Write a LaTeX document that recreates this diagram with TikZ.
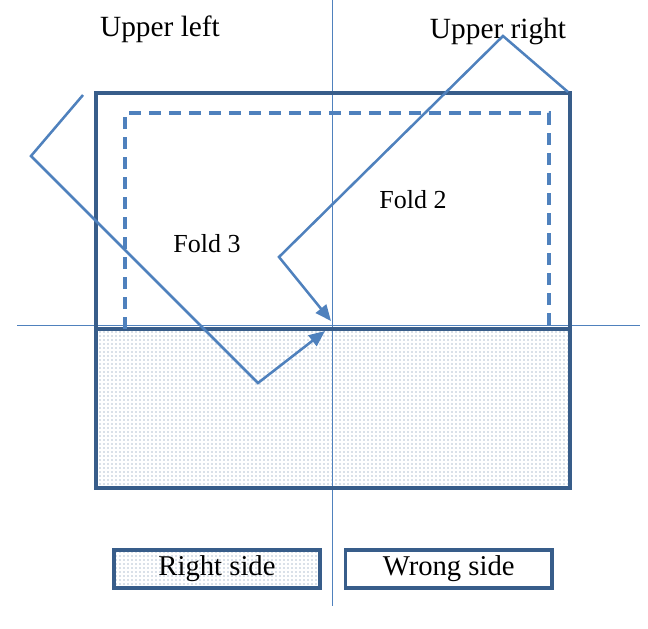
\documentclass[tikz,border=0pt]{standalone}
\usepackage{fontspec}
\setmainfont{Liberation Serif}
\usetikzlibrary{arrows.meta, patterns, positioning}
\definecolor{foldblue}{RGB}{79,129,189}
\definecolor{edgeblue}{RGB}{56,93,138}

\begin{document}
\begin{tikzpicture}[x=0.75pt, y=-0.75pt,
        axis/.style={foldblue, line width=0.6pt},
        edge/.style={edgeblue, line width=2.8pt},
        seam/.style={foldblue, line width=2.6pt, dash pattern=on 9pt off 6pt},
        fold/.style={foldblue, line width=1.9pt, -{Triangle[length=12pt, width=10pt]}},
        lbl/.style={font=\fontsize{19.5}{22}\selectfont},
        big/.style={font=\fontsize{22}{25}\selectfont},
        key/.style={draw=edgeblue, line width=2.8pt, minimum width=155pt, minimum height=29pt, inner sep=0pt, font=\fontsize{21.5}{25}\selectfont}]
        \useasboundingbox (0,0) rectangle (648,628);

        % fabric, right side facing
        \fill [pattern=dots, pattern color=edgeblue!80] (96,329) rectangle (570,488);
        \draw [axis] (17,325) -- (640,325);
        \draw [axis] (332,0) -- (332,606);
        \draw [edge] (96,93) rectangle (570,488);
        \draw [edge] (96,329) -- (570,329);
        \draw [seam] (125,329) -- (125,113) -- (549,113) -- (549,329);

        \node [big] (UL) at (160,29) {Upper left};
        \node [big] (UR) at (498,31) {Upper right};
        \node [lbl] (F2) at (413,200) {Fold 2};
        \node [lbl] (F3) at (207,244) {Fold 3};

        % fold paths
        \coordinate (C3a) at (83,95);
        \coordinate (C3b) at (31,156);
        \coordinate (C3c) at (258,383);
        \coordinate (C3d) at (325,331);
        \coordinate (C2a) at (568,92);
        \coordinate (C2b) at (503,36);
        \coordinate (C2c) at (279,257);
        \coordinate (C2d) at (331,321);
        \draw [fold] (C3a) -- (C3b) -- (C3c) -- (C3d);
        \draw [fold] (C2a) -- (C2b) -- (C2c) -- (C2d);

        % legend
        \node [key, pattern=dots, pattern color=edgeblue!80] (RS) at (217,569) {Right side};
        \node [key, fill=white, right=16pt of RS] (WS) {Wrong side};
\end{tikzpicture}
\end{document}
